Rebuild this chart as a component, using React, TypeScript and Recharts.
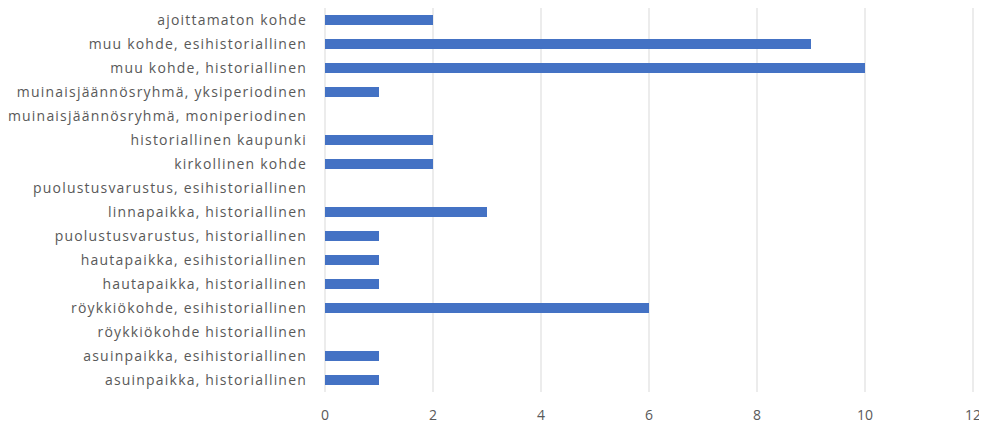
import { BarChart, Bar, XAxis, YAxis, CartesianGrid } from "recharts";

const categories = [
  "ajoittamaton kohde",
  "muu kohde, esihistoriallinen",
  "muu kohde, historiallinen",
  "muinaisjäännösryhmä, yksiperiodinen",
  "muinaisjäännösryhmä, moniperiodinen",
  "historiallinen kaupunki",
  "kirkollinen kohde",
  "puolustusvarustus, esihistoriallinen",
  "linnapaikka, historiallinen",
  "puolustusvarustus, historiallinen",
  "hautapaikka, esihistoriallinen",
  "hautapaikka, historiallinen",
  "röykkiökohde, esihistoriallinen",
  "röykkiökohde historiallinen",
  "asuinpaikka, esihistoriallinen",
  "asuinpaikka, historiallinen",
];

const counts = [2, 9, 10, 1, 0, 2, 2, 0, 3, 1, 1, 1, 6, 0, 1, 1];

const xTicks = [0, 2, 4, 6, 8, 10, 12];

const data = categories.map((name, i) => ({ name, value: counts[i] }));

const tickStyle = { fill: "#595959", fontSize: 14, fontFamily: "'Open Sans', sans-serif" };
const catStyle = { ...tickStyle, letterSpacing: 1.2 };

export default function App() {
  return (
    <BarChart
      width={979}
      height={419}
      data={data}
      layout="vertical"
      margin={{ top: 0, right: 14, left: 0, bottom: 5 }}
    >
      <CartesianGrid horizontal={false} stroke="#d9d9d9" />
      <XAxis
        type="number"
        domain={[0, 12]}
        ticks={xTicks}
        tick={tickStyle}
        axisLine={false}
        tickLine={false}
        tickMargin={12}
        height={30}
      />
      <YAxis
        type="category"
        dataKey="name"
        width={317}
        interval={0}
        tick={catStyle}
        axisLine={false}
        tickLine={false}
        tickMargin={12}
      />
      <Bar dataKey="value" fill="#4472c4" barSize={10} isAnimationActive={false} />
    </BarChart>
  );
}
